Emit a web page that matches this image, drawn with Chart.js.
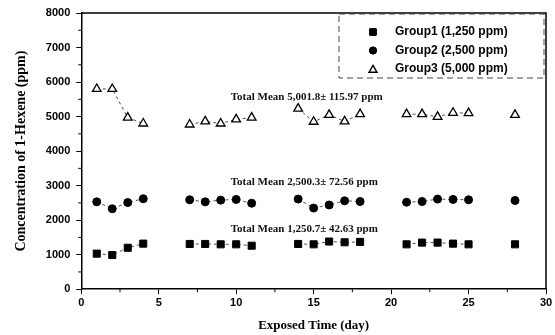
<!DOCTYPE html>
<html>
<head>
<meta charset="utf-8">
<script src="https://cdn.jsdelivr.net/npm/chart.js@4.4.0/dist/chart.umd.min.js"></script>
<style>
  html, body { margin: 0; padding: 0; background: #fff; }
  #wrap { width: 555px; height: 335px; }
</style>
</head>
<body>
<div id="wrap"><canvas id="myChart" width="555" height="335"></canvas></div>
<script>
// exposure days (same for all groups)
var days = [1, 2, 3, 4, 7, 8, 9, 10, 11, 14, 15, 16, 17, 18, 21, 22, 23, 24, 25, 28];
// concentrations (ppm)
var group1 = [1030, 990, 1200, 1320, 1310, 1310, 1300, 1300, 1260, 1310, 1300, 1380, 1360, 1370, 1300, 1350, 1350, 1320, 1300, 1300];
var group2 = [2530, 2330, 2510, 2620, 2590, 2530, 2580, 2600, 2490, 2610, 2350, 2440, 2560, 2540, 2520, 2540, 2610, 2600, 2590, 2570];
var group3 = [5800, 5800, 4970, 4800, 4770, 4860, 4800, 4920, 4970, 5230, 4850, 5050, 4860, 5070, 5070, 5070, 4990, 5110, 5100, 5050];
var seriesNames = ['Group1 (1,250 ppm)', 'Group2 (2,500 ppm)', 'Group3 (5,000 ppm)'];
var meanNotes = ['Total Mean 5,001.8\u00b1 115.97 ppm', 'Total Mean 2,500.3\u00b1 72.56 ppm', 'Total Mean 1,250.7\u00b1 42.63 ppm'];
var xTicks = [0, 5, 10, 15, 20, 25, 30];
var yTicks = [0, 1000, 2000, 3000, 4000, 5000, 6000, 7000, 8000];

// where the mean notes sit, in data units
var notePos = [[9.65, 5550], [9.65, 3090], [9.65, 1735]];

var SERIF = '"Liberation Serif", "Times New Roman", serif';
var SANS = '"Liberation Sans", Arial, sans-serif';

function pts(vals){
  var out = [];
  for (var i = 0; i < days.length; i++) out.push({x: days[i], y: vals[i]});
  return out;
}

// lines only join neighbouring days, break over the gaps
var segStyle = {
  borderColor: function(c){ return (c.p1.parsed.x - c.p0.parsed.x > 1.5) ? 'rgba(0,0,0,0)' : '#222'; }
};

var styles = [
  {pointStyle: 'rect', radius: 5, bg: '#000', bw: 1},
  {pointStyle: 'circle', radius: 4, bg: '#000', bw: 1},
  {pointStyle: 'triangle', radius: 5, bg: '#fff', bw: 1.3}
];

var datasets = [group1, group2, group3].map(function(v, i){
  var s = styles[i];
  return {
    label: seriesNames[i],
    data: pts(v),
    showLine: true,
    borderColor: '#222',
    borderWidth: 0.8,
    borderDash: [3, 3],
    segment: segStyle,
    pointStyle: s.pointStyle,
    pointRadius: s.radius,
    pointHoverRadius: s.radius,
    pointBackgroundColor: s.bg,
    pointBorderColor: '#000',
    pointBorderWidth: s.bw
  };
});

var extras = {
  id: 'extras',
  afterDraw: function(chart){
    var ctx = chart.ctx, a = chart.chartArea;
    var sx = chart.scales.x, sy = chart.scales.y;
    ctx.save();
    // frame
    ctx.strokeStyle = '#000';
    ctx.lineWidth = 1.5;
    ctx.beginPath();
    ctx.moveTo(a.left, a.top); ctx.lineTo(a.right, a.top); ctx.lineTo(a.right, a.bottom);
    ctx.stroke();
    // minor ticks
    ctx.lineWidth = 1;
    ctx.beginPath();
    for (var d = 2.5; d < 30; d += 5) {
      var px = sx.getPixelForValue(d);
      ctx.moveTo(px, a.bottom); ctx.lineTo(px, a.bottom + 3);
    }
    for (var c = 500; c < 8000; c += 1000) {
      var py = sy.getPixelForValue(c);
      ctx.moveTo(a.left, py); ctx.lineTo(a.left - 3, py);
    }
    ctx.stroke();

    // mean notes
    ctx.fillStyle = '#111';
    ctx.font = 'bold 11px ' + SERIF;
    ctx.textAlign = 'left';
    ctx.textBaseline = 'middle';
    meanNotes.forEach(function(t, i){
      ctx.fillText(t, sx.getPixelForValue(notePos[i][0]), sy.getPixelForValue(notePos[i][1]));
    });

    // legend
    var bx = a.right - 207, by = a.top + 1, bw = 205, bh = 64;
    ctx.strokeStyle = '#444';
    ctx.lineWidth = 1;
    ctx.setLineDash([6, 4]);
    ctx.strokeRect(bx, by, bw, bh);
    ctx.setLineDash([]);
    ctx.font = 'bold 12px ' + SANS;
    ctx.fillStyle = '#000';
    for (var k = 0; k < 3; k++) {
      var ly = by + 18 + k * 18.5;
      var s = styles[k];
      ctx.fillStyle = s.bg;
      ctx.strokeStyle = '#000';
      ctx.lineWidth = s.bw;
      Chart.helpers.drawPoint(ctx, {pointStyle: s.pointStyle, radius: s.radius - 0.5, rotation: 0, borderWidth: s.bw}, bx + 34, ly + (k == 2 ? 1 : 0));
      ctx.fill();
      ctx.stroke();
      ctx.fillStyle = '#000';
      ctx.fillText(seriesNames[k], bx + 56, ly);
    }
    ctx.restore();
  }
};

function plain(v){ return String(v); }

var chart = new Chart(document.getElementById('myChart').getContext('2d'), {
  type: 'scatter',
  data: { datasets: datasets },
  options: {
    responsive: false,
    animation: false,
    layout: { padding: { top: 13, right: 9, left: 13, bottom: 2 } },
    plugins: { legend: { display: false }, tooltip: { enabled: false } },
    scales: {
      x: {
        type: 'linear', min: 0, max: 30,
        afterBuildTicks: function(s){ s.ticks = xTicks.map(function(v){ return {value: v}; }); },
        grid: { drawOnChartArea: false, tickLength: 5, color: '#000', lineWidth: 1 },
        border: { display: true, color: '#000', width: 1.5 },
        ticks: { color: '#000', font: { family: SANS, size: 11, weight: 'bold' }, padding: 2, maxRotation: 0, callback: plain },
        title: { display: true, text: 'Exposed Time (day)', color: '#000', font: { family: SERIF, size: 13, weight: 'bold' }, padding: { top: 6, bottom: 0 } }
      },
      y: {
        type: 'linear', min: 0, max: 8000,
        afterBuildTicks: function(s){ s.ticks = yTicks.map(function(v){ return {value: v}; }); },
        grid: { drawOnChartArea: false, tickLength: 5, color: '#000', lineWidth: 1 },
        border: { display: true, color: '#000', width: 1.5 },
        ticks: { color: '#000', font: { family: SANS, size: 11, weight: 'bold' }, padding: 6, callback: plain },
        title: { display: true, text: 'Concentration of 1-Hexene (ppm)', color: '#000', font: { family: SERIF, size: 14, weight: 'bold' }, padding: { top: 0, bottom: 10 } }
      }
    }
  },
  plugins: [extras]
});
</script>
</body>
</html>
